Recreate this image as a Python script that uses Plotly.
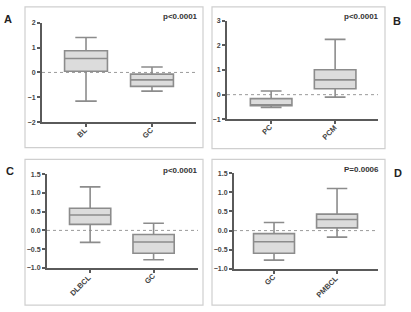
import plotly.graph_objects as go

W, H = 411, 312

# Panel A
catsA = ["BL", "GC"]
upA = [1.40, 0.22]
q3A = [0.87, -0.07]
medA = [0.56, -0.30]
q1A = [0.05, -0.56]
loA = [-1.15, -0.75]

# Panel B
catsB = ["PC", "PCM"]
upB = [0.15, 2.24]
q3B = [-0.16, 1.01]
medB = [-0.42, 0.60]
q1B = [-0.45, 0.24]
loB = [-0.52, -0.10]

# Panel C
catsC = ["DLBCL", "GC"]
upC = [1.16, 0.19]
q3C = [0.59, -0.11]
medC = [0.41, -0.31]
q1C = [0.16, -0.61]
loC = [-0.32, -0.78]

# Panel D
catsD = ["GC", "PMBCL"]
upD = [0.21, 1.10]
q3D = [-0.08, 0.43]
medD = [-0.29, 0.29]
q1D = [-0.59, 0.07]
loD = [-0.77, -0.17]

pvals = ["p<0.0001", "p<0.0001", "p<0.0001", "P=0.0006"]
letters = ["A", "B", "C", "D"]

ticksA = [-2, -1, 0, 1, 2]
ticksB = [-1, 0, 1, 2, 3]
ticksCD = [-1.0, -0.5, 0.0, 0.5, 1.0, 1.5]

panels = [
    dict(cats=catsA, up=upA, q3=q3A, med=medA, q1=q1A, lo=loA,
         xpx=(42, 196), ypx=(19, 121), xr=(-0.667, 1.667), yr=(-2, 2),
         tickvals=ticksA, fmt="d", frame=(25, 3, 203, 147),
         ptxt=(200, 13), let=(8, 15)),
    dict(cats=catsB, up=upB, q3=q3B, med=medB, q1=q1B, lo=loB,
         xpx=(227, 378), ypx=(17, 118), xr=(-0.69, 1.67), yr=(-1, 3),
         tickvals=ticksB, fmt="d", frame=(212, 3, 385, 148),
         ptxt=(381, 13), let=(397, 17)),
    dict(cats=catsC, up=upC, q3=q3C, med=medC, q1=q1C, lo=loC,
         xpx=(47, 198), ypx=(174, 270), xr=(-0.68, 1.70), yr=(-1, 1.5),
         tickvals=ticksCD, fmt=".1f", frame=(25, 159, 203, 308),
         ptxt=(200, 170), let=(10, 171)),
    dict(cats=catsD, up=upD, q3=q3D, med=medD, q1=q1D, lo=loD,
         xpx=(234, 378), ypx=(173, 271), xr=(-0.635, 1.65), yr=(-1, 1.5),
         tickvals=ticksCD, fmt=".1f", frame=(212, 159, 385, 308),
         ptxt=(381, 169), let=(398, 173)),
]

fig = go.Figure()
shapes = []
annotations = []
AX = "#5a5a5a"
FONT = "Liberation Sans, Arial, sans-serif"

for i, p in enumerate(panels):
    n = "" if i == 0 else str(i + 1)
    xa = "x" + n
    ya = "y" + n
    for j, c in enumerate(p["cats"]):
        fig.add_trace(go.Box(
            x=[c], q1=[p["q1"][j]], median=[p["med"][j]], q3=[p["q3"][j]],
            lowerfence=[p["lo"][j]], upperfence=[p["up"][j]],
            xaxis=xa, yaxis=ya, width=0.65, whiskerwidth=0.5,
            fillcolor="#dcdcdc", line=dict(color="#8c8c8c", width=1.6),
            boxpoints=False, showlegend=False, hoverinfo="skip",
        ))
    x0, x1 = p["xpx"]
    y0, y1 = p["ypx"]
    fig.update_layout(**{
        "xaxis" + n: dict(
            domain=[x0 / W, x1 / W], anchor=ya, type="category",
            categoryorder="array", categoryarray=p["cats"],
            range=list(p["xr"]), showline=True, linecolor=AX, linewidth=2,
            ticks="outside", ticklen=3, tickwidth=1.5, tickcolor=AX,
            showgrid=False, zeroline=False, showticklabels=False,
        ),
        "yaxis" + n: dict(
            domain=[1 - y1 / H, 1 - y0 / H], anchor=xa,
            range=list(p["yr"]), tickvals=p["tickvals"], tickformat=p["fmt"],
            showline=True, linecolor=AX, linewidth=2,
            ticks="outside", ticklen=3, tickwidth=1.5, tickcolor=AX,
            showgrid=False, zeroline=False,
            tickfont=dict(family=FONT, size=7, color="#444", weight="bold"),
        ),
    })
    # rotated category labels, centred on the label's centre
    for c in p["cats"]:
        L = len(c)
        annotations.append(dict(
            text="<b>" + c + "</b>", xref=xa, yref="paper",
            x=c, y=1 - y1 / H, xanchor="center", yanchor="middle",
            xshift=-1.9 * L, yshift=-(5 + 2.6 * L), textangle=-45,
            showarrow=False,
            font=dict(family=FONT, size=7.5, color="#444"),
        ))
    shapes.append(dict(type="line", xref=xa + " domain", yref=ya,
                       x0=0, x1=1, y0=0, y1=0,
                       line=dict(color="#9a9a9a", width=1, dash="dot"),
                       layer="below"))
    fx0, fy0, fx1, fy1 = p["frame"]
    shapes.append(dict(type="rect", xref="paper", yref="paper",
                       x0=fx0 / W, x1=fx1 / W, y0=1 - fy1 / H, y1=1 - fy0 / H,
                       line=dict(color="#cfcfcf", width=1.2)))
    tx, ty = p["ptxt"]
    annotations.append(dict(text="<b>" + pvals[i] + "</b>", xref="paper", yref="paper",
                            x=tx / W, y=1 - ty / H, xanchor="right", yanchor="middle",
                            showarrow=False,
                            font=dict(family=FONT, size=8, color="#333")))
    lx, ly = p["let"]
    annotations.append(dict(text="<b>" + letters[i] + "</b>", xref="paper", yref="paper",
                            x=lx / W, y=1 - ly / H, xanchor="center", yanchor="middle",
                            showarrow=False,
                            font=dict(family=FONT, size=11, color="#222")))

fig.update_layout(
    width=W, height=H, margin=dict(l=0, r=0, t=0, b=0),
    paper_bgcolor="white", plot_bgcolor="white",
    shapes=shapes, annotations=annotations,
)

fig.write_html("out.html")
